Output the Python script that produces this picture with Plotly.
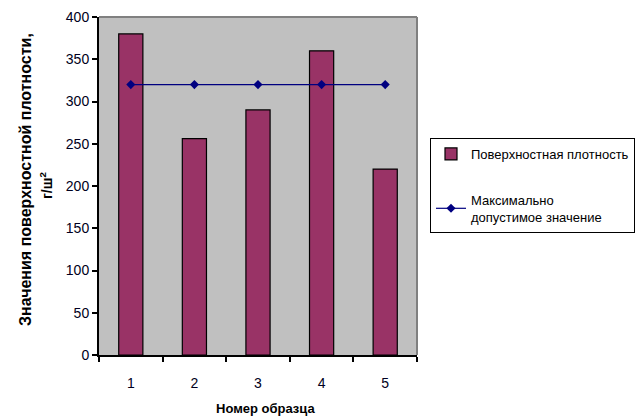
import plotly.graph_objects as go

samples = ["1", "2", "3", "4", "5"]
density = [380, 256, 290, 360, 220]
max_allowed = [320, 320, 320, 320, 320]

font_main = "Liberation Sans Narrow, Arial Narrow, Liberation Sans, Arial"
font_title = "Liberation Sans, Arial"

# plotting-area geometry in pixels
W, H = 643, 417
L, R, T, B = 99, 226, 17, 62
PW, PH = W - L - R, H - T - B


def px_x(px):
    return (px - L) / PW


def px_y(py):
    return (H - B - py) / PH


fig = go.Figure()
fig.add_trace(go.Bar(
    x=samples, y=density, name="Поверхностная плотность",
    marker=dict(color="#993366", line=dict(color="black", width=1.2)),
    width=0.38, legendgroup="a",
))
fig.add_trace(go.Scatter(
    x=samples, y=max_allowed, mode="lines+markers",
    name="Максимально<br>допустимое значение",
    line=dict(color="#000080", width=1.2),
    marker=dict(symbol="diamond", size=7, color="#000080"),
    legendgroup="b",
))

# grey frame on the top and right of the plotting area
fig.add_shape(type="line", xref="paper", yref="paper", x0=0, x1=1, y0=1, y1=1,
              line=dict(color="#808080", width=2))
fig.add_shape(type="line", xref="paper", yref="paper", x0=1, x1=1, y0=0, y1=1,
              line=dict(color="#808080", width=2))

# axis titles
fig.add_annotation(text="<b>Значения поверхностной плотности,</b>", textangle=-90,
                   xref="paper", yref="paper", x=px_x(25), y=px_y(180),
                   xanchor="center", yanchor="middle", showarrow=False,
                   font=dict(family=font_title, size=16, color="black"))
fig.add_annotation(text="<b>г/ш<sup>2</sup></b>", textangle=-90,
                   xref="paper", yref="paper", x=px_x(46), y=px_y(186),
                   xanchor="center", yanchor="middle", showarrow=False,
                   font=dict(family=font_title, size=14, color="black"))
fig.add_annotation(text="<b>Номер образца</b>",
                   xref="paper", yref="paper", x=px_x(265), y=px_y(408),
                   xanchor="center", yanchor="middle", showarrow=False,
                   font=dict(family=font_title, size=13, color="black"))

fig.update_layout(
    width=W, height=H,
    margin=dict(l=L, r=R, t=T, b=B, autoexpand=False),
    paper_bgcolor="white", plot_bgcolor="#c0c0c0",
    font=dict(family=font_main, size=12, color="black"),
    showlegend=True,
    legend=dict(
        x=px_x(430), y=px_y(138), xanchor="left", yanchor="top",
        bordercolor="black", borderwidth=1, bgcolor="white",
        font=dict(family=font_title, size=13, color="black"),
        traceorder="grouped", tracegroupgap=26,
    ),
    bargap=0.62,
)
fig.update_xaxes(
    type="category", automargin=False, showgrid=False, showline=True,
    linecolor="black", linewidth=2,
    ticks="outside", tickson="boundaries", ticklen=5, tickcolor="black", tickwidth=2,
    ticklabelstandoff=14,
    tickfont=dict(family=font_main, size=14, color="#000020"),
)
fig.update_yaxes(
    range=[0, 400], dtick=50, automargin=False, showgrid=False, zeroline=False,
    showline=True, linecolor="black", linewidth=2,
    ticks="outside", ticklen=5, tickcolor="black", tickwidth=2,
    tickfont=dict(family=font_main, size=14, color="#000020"),
)

fig.write_html("out.html")
